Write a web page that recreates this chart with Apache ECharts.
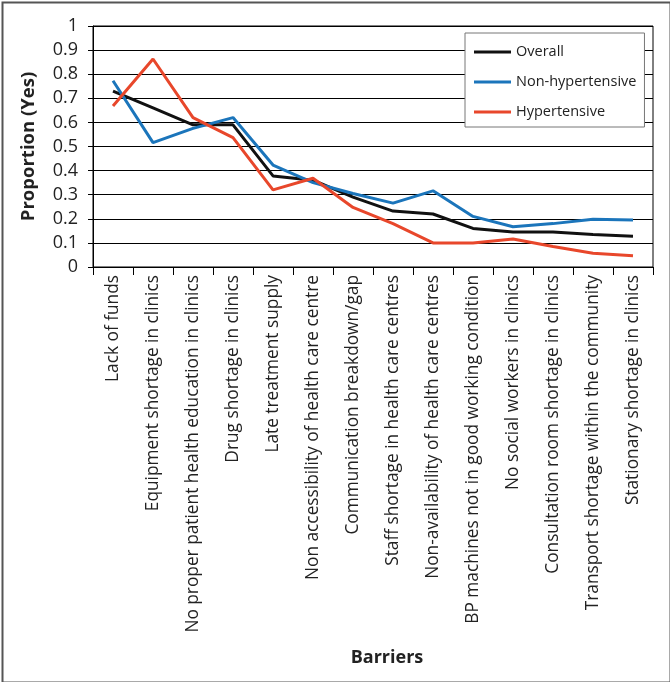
<!DOCTYPE html>
<html>
<head>
<meta charset="utf-8">
<script src="https://cdn.jsdelivr.net/npm/echarts@6/dist/echarts.min.js"></script>
<style>
html,body{margin:0;padding:0;background:#fff;}
#c{width:670px;height:682px;}
</style>
</head>
<body>
<div id="c"></div>
<script>
const categories = [
  "Lack of funds",
  "Equipment shortage in clinics",
  "No proper patient health education in clinics",
  "Drug shortage in clinics",
  "Late treatment supply",
  "Non accessibility of health care centre",
  "Communication breakdown/gap",
  "Staff shortage in health care centres",
  "Non-availability of health care centres",
  "BP machines not in good working condition",
  "No social workers in clinics",
  "Consultation room shortage in clinics",
  "Transport shortage within the community",
  "Stationary shortage in clinics"
];
const overall = [0.73, 0.66, 0.59, 0.59, 0.378, 0.36, 0.29, 0.232, 0.22, 0.16, 0.145, 0.145, 0.135, 0.128];
const nonHypertensive = [0.773, 0.516, 0.575, 0.62, 0.423, 0.35, 0.305, 0.265, 0.316, 0.21, 0.167, 0.18, 0.198, 0.195];
const hypertensive = [0.668, 0.863, 0.62, 0.537, 0.32, 0.368, 0.247, 0.18, 0.10, 0.10, 0.116, 0.085, 0.057, 0.047];
const yTicks = { min: 0, max: 1, interval: 0.1 };

const FONT = "'Open Sans', 'Noto Sans', sans-serif";
const chart = echarts.init(document.getElementById('c'), null, { renderer: 'canvas' });

function line(name, data, color) {
  return {
    name: name, type: 'line', data: data, symbol: 'none', smooth: false,
    lineStyle: { color: color, width: 3 }, itemStyle: { color: color },
    emphasis: { disabled: true }, animation: false
  };
}

chart.setOption({
  animation: false,
  backgroundColor: '#fff',
  textStyle: { fontFamily: FONT },
  graphic: [{
    type: 'rect', left: 0, top: 0, z: 100, silent: true,
    shape: { x: 1, y: 1, width: 668, height: 680 },
    style: { fill: null, stroke: '#555', lineWidth: 2 }
  }],
  grid: {
    left: 93, right: 17, top: 26, bottom: 415,
    show: true, borderColor: '#000', borderWidth: 1, backgroundColor: 'transparent'
  },
  legend: {
    orient: 'vertical', left: 465, top: 33,
    padding: [11, 8, 7, 9], itemGap: 14,
    itemWidth: 37, itemHeight: 3, icon: 'rect',
    backgroundColor: '#fff', borderColor: '#777', borderWidth: 1,
    textStyle: { fontFamily: FONT, fontSize: 14.5, color: '#222', lineHeight: 16 },
    data: ['Overall', 'Non-hypertensive', 'Hypertensive']
  },
  xAxis: {
    type: 'category', data: categories, boundaryGap: true,
    name: 'Barriers', nameLocation: 'middle', nameGap: 382,
    nameTextStyle: { fontFamily: FONT, fontSize: 18, fontWeight: 'bold', color: '#222', padding: [0, 0, 0, 28] },
    axisLine: { lineStyle: { color: '#000', width: 1 } },
    axisTick: { show: true, interval: 0, length: 8, lineStyle: { color: '#000' } },
    axisLabel: { interval: 0, rotate: 90, margin: 8, fontFamily: FONT, fontSize: 17.3, color: '#222' }
  },
  yAxis: {
    type: 'value', min: yTicks.min, max: yTicks.max, interval: yTicks.interval,
    name: 'Proportion (Yes)', nameLocation: 'middle', nameGap: 55,
    nameTextStyle: { fontFamily: FONT, fontSize: 18.5, fontWeight: 'bold', color: '#222' },
    axisLine: { show: true, lineStyle: { color: '#000', width: 1 } },
    axisTick: { show: true, length: 5, lineStyle: { color: '#000' } },
    splitLine: { show: true, lineStyle: { color: '#000', width: 1 } },
    axisLabel: { margin: 15, fontFamily: FONT, fontSize: 18, color: '#222',
      formatter: v => String(+v.toFixed(1)) }
  },
  series: [
    line('Overall', overall, '#111111'),
    line('Non-hypertensive', nonHypertensive, '#1b75bb'),
    line('Hypertensive', hypertensive, '#e8472b')
  ]
});
</script>
</body>
</html>
